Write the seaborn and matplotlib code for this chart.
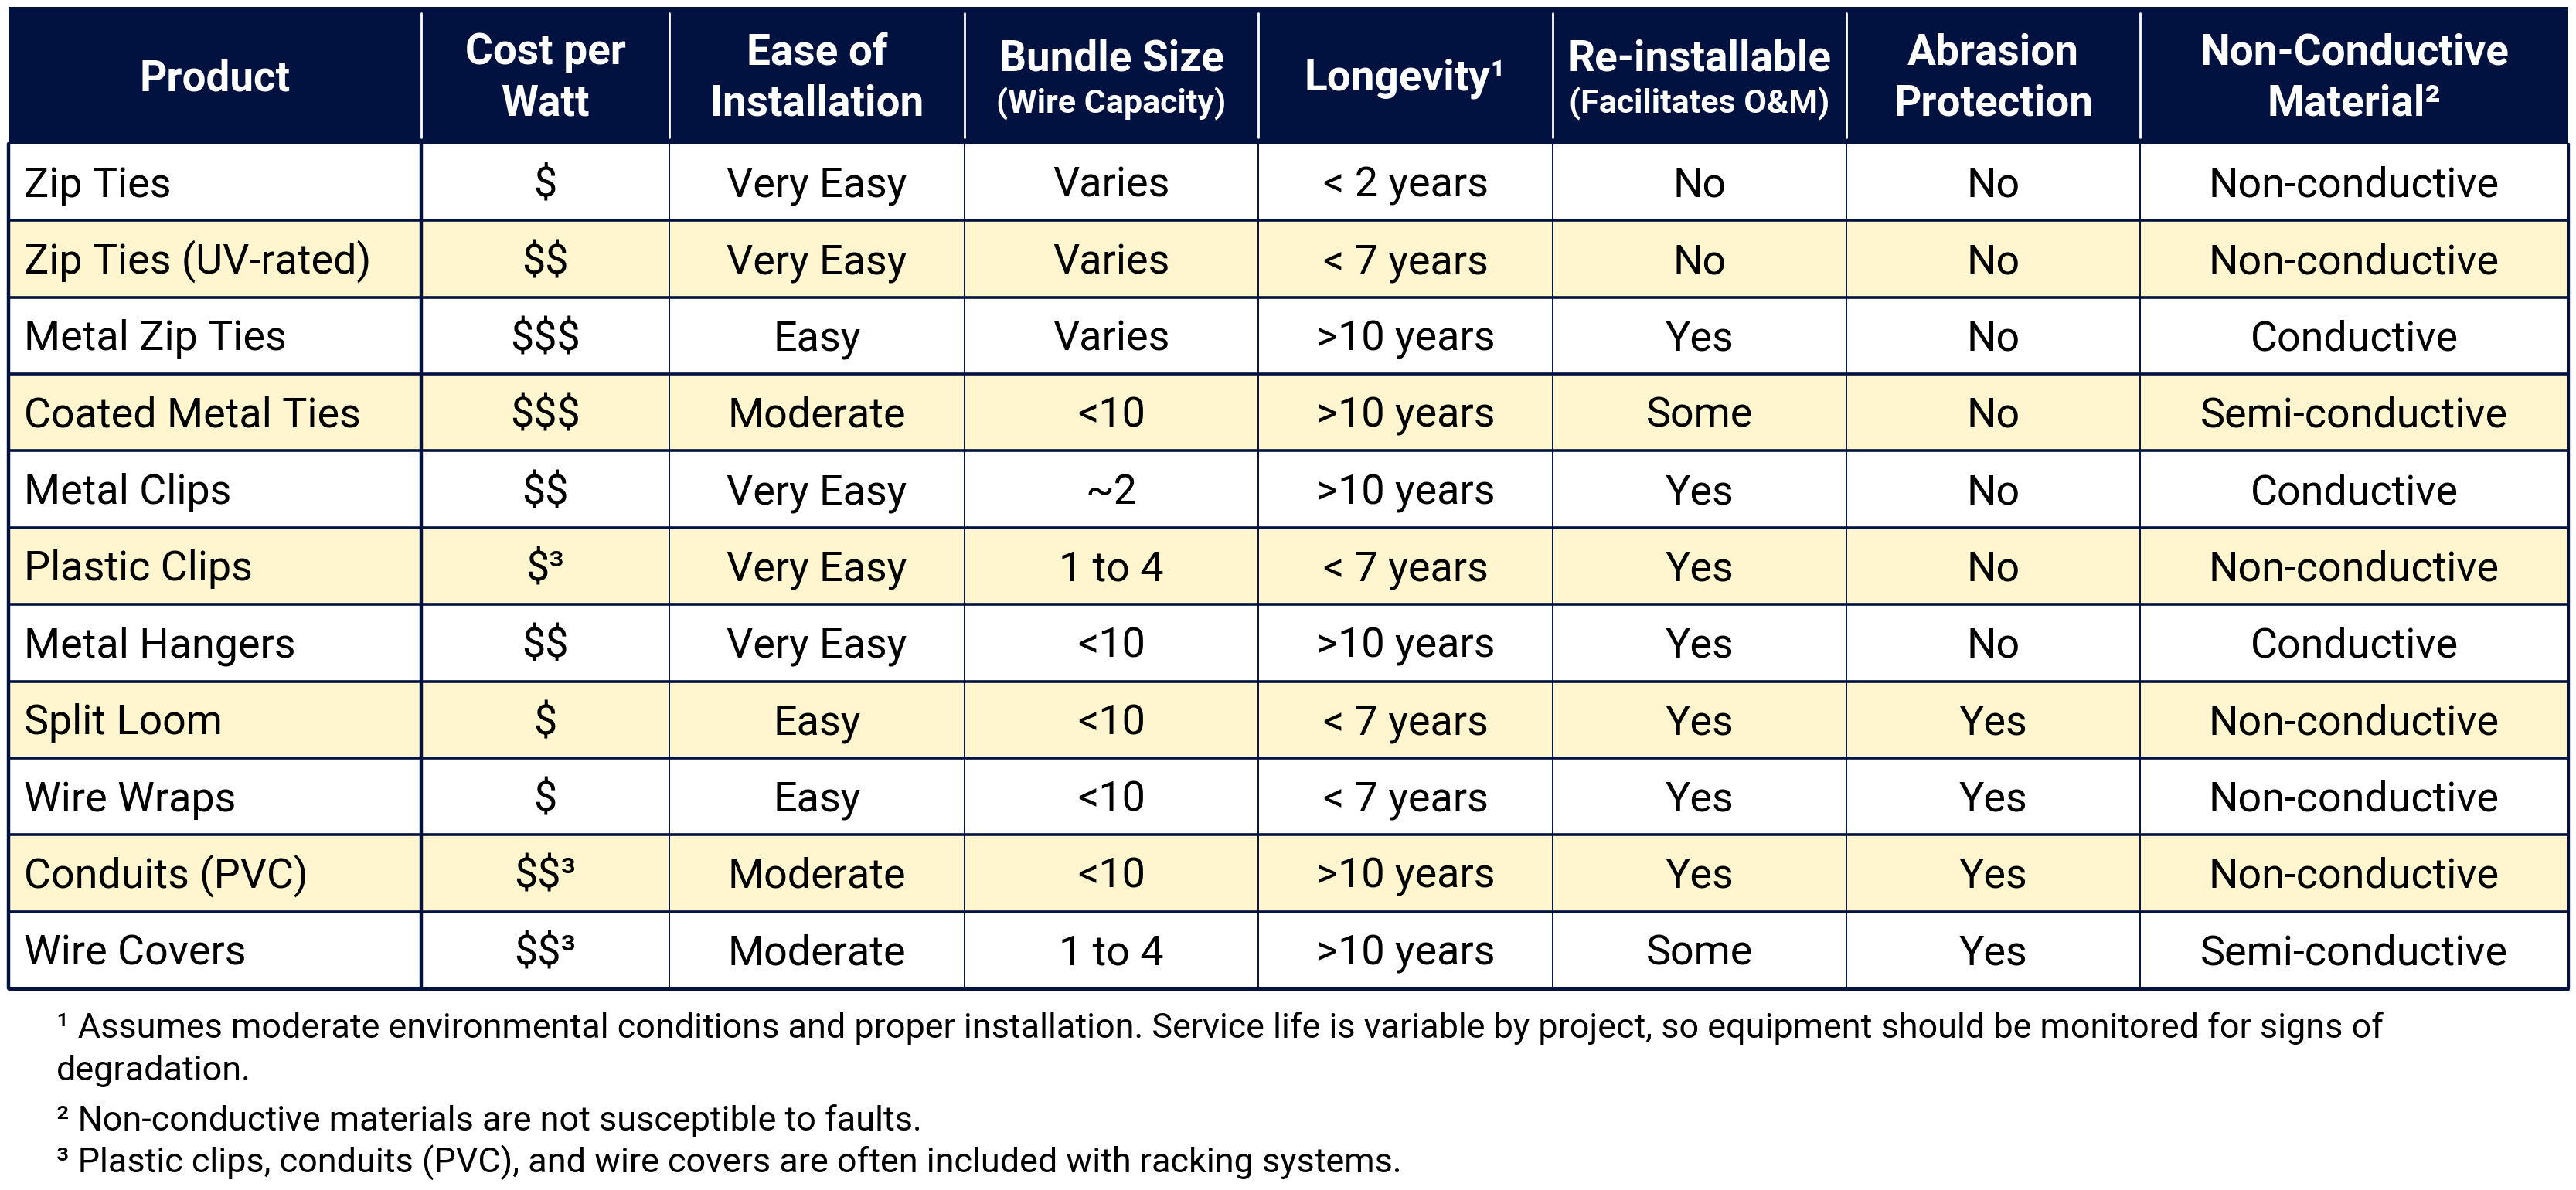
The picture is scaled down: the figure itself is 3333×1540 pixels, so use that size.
import numpy as np
import seaborn as sns
import matplotlib.pyplot as plt
from matplotlib.colors import ListedColormap
from matplotlib.patches import Rectangle

# Table content
products = ["Zip Ties", "Zip Ties (UV-rated)", "Metal Zip Ties", "Coated Metal Ties",
            "Metal Clips", "Plastic Clips", "Metal Hangers", "Split Loom",
            "Wire Wraps", "Conduits (PVC)", "Wire Covers"]
cost = ["$", "$$", "$$$", "$$$", "$$", "$³", "$$", "$", "$", "$$³", "$$³"]
ease = ["Very Easy", "Very Easy", "Easy", "Moderate", "Very Easy", "Very Easy",
        "Very Easy", "Easy", "Easy", "Moderate", "Moderate"]
bundle = ["Varies", "Varies", "Varies", "<10", "~2", "1 to 4", "<10", "<10",
          "<10", "<10", "1 to 4"]
longevity = ["< 2 years", "< 7 years", ">10 years", ">10 years", ">10 years",
             "< 7 years", ">10 years", "< 7 years", "< 7 years", ">10 years",
             ">10 years"]
reinstall = ["No", "No", "Yes", "Some", "Yes", "Yes", "Yes", "Yes", "Yes",
             "Yes", "Some"]
abrasion = ["No", "No", "No", "No", "No", "No", "No", "Yes", "Yes", "Yes", "Yes"]
material = ["Non-conductive", "Non-conductive", "Conductive", "Semi-conductive",
            "Conductive", "Non-conductive", "Conductive", "Non-conductive",
            "Non-conductive", "Non-conductive", "Semi-conductive"]

header_main = ["Product", "Cost per\nWatt", "Ease of\nInstallation", "Bundle Size",
               "Longevity¹", "Re-installable", "Abrasion\nProtection",
               "Non-Conductive\nMaterial²"]
header_sub = ["", "", "", "(Wire Capacity)", "", "(Facilitates O&M)", "", ""]

footnotes = [
    "¹ Assumes moderate environmental conditions and proper installation. Service life is variable by project, so equipment should be monitored for signs of\ndegradation.",
    "² Non-conductive materials are not susceptible to faults.",
    "³ Plastic clips, conduits (PVC), and wire covers are often included with racking systems.",
]

columns = [products, cost, ease, bundle, longevity, reinstall, abrasion, material]

# layout (pixels)
W, H = 3333, 1540
col_edges = [11, 545, 866, 1248, 1628, 2009, 2389, 2769, 3323]
head_top, head_bot = 9, 186
body_bot = 1279
n_rows = len(products)
row_h = (body_bot - head_bot) / n_rows

navy = "#021240"
yellow = "#FFF5CE"
head_fs, sub_fs, body_fs, foot_fs = 39.5, 31, 38.8, 32.4

sns.set_theme(style="white")
plt.rcParams['font.family'] = ['Roboto', 'DejaVu Sans']
plt.rcParams['text.parse_math'] = False

fig = plt.figure(figsize=(W / 100, H / 100), dpi=100)

# striped body rows with a heatmap
body_ax = fig.add_axes([col_edges[0] / W, 1 - body_bot / H,
                        (col_edges[-1] - col_edges[0]) / W, (body_bot - head_bot) / H])
stripes = np.array([[i % 2] for i in range(n_rows)])
sns.heatmap(stripes, cmap=ListedColormap(["white", yellow]), cbar=False,
            ax=body_ax, xticklabels=False, yticklabels=False)
body_ax.set_axis_off()

ax = fig.add_axes([0, 0, 1, 1], zorder=2)
ax.set_xlim(0, W)
ax.set_ylim(H, 0)
ax.set_axis_off()
ax.patch.set_alpha(0)

# header band
ax.add_patch(Rectangle((col_edges[0], head_top), col_edges[-1] - col_edges[0],
                       head_bot - head_top, color=navy, lw=0))
for x in col_edges[1:-1]:
    ax.plot([x, x], [head_top + 8, head_bot - 8], color="white", lw=2.0)

for j, (main, sub) in enumerate(zip(header_main, header_sub)):
    cx = (col_edges[j] + col_edges[j + 1]) / 2
    lines = main.split("\n")
    if sub:
        ax.text(cx, 91, main, ha="center", va="baseline", color="white",
                fontsize=head_fs, fontweight="bold")
        ax.text(cx, 147, sub, ha="center", va="baseline", color="white",
                fontsize=sub_fs, fontweight="bold")
    elif len(lines) == 2:
        ax.text(cx, 83, lines[0], ha="center", va="baseline", color="white",
                fontsize=head_fs, fontweight="bold")
        ax.text(cx, 150, lines[1], ha="center", va="baseline", color="white",
                fontsize=head_fs, fontweight="bold")
    else:
        ax.text(cx, 117, main, ha="center", va="baseline", color="white",
                fontsize=head_fs, fontweight="bold")

# body text
for j, col in enumerate(columns):
    for i, val in enumerate(col):
        y = head_bot + (i + 0.5) * row_h + 19
        if j == 0:
            ax.text(col_edges[0] + 20, y, val, ha="left", va="baseline",
                    fontsize=body_fs, color="black")
        else:
            cx = (col_edges[j] + col_edges[j + 1]) / 2
            ax.text(cx, y, val, ha="center", va="baseline", fontsize=body_fs,
                    color="black")

# grid lines
for i in range(1, n_rows):
    y = head_bot + i * row_h
    ax.plot([col_edges[0], col_edges[-1]], [y, y], color=navy, lw=2.6,
            solid_capstyle="butt")
for k, x in enumerate(col_edges[1:-1]):
    ax.plot([x, x], [head_bot, body_bot], color=navy,
            lw=3.2 if k == 0 else 1.4)
ax.plot([col_edges[0], col_edges[0]], [head_bot, body_bot], color=navy, lw=3.2)
ax.plot([col_edges[-1], col_edges[-1]], [head_bot, body_bot], color=navy, lw=2.4)
ax.plot([col_edges[0] - 1, col_edges[-1] + 1], [body_bot, body_bot], color=navy,
        lw=3.6, solid_capstyle="butt")

# footnotes
foot_y = [1343, 1463, 1518]
for txt, y in zip(footnotes, foot_y):
    first, *rest = txt.split("\n")
    ax.text(73, y, first, ha="left", va="baseline", fontsize=foot_fs, color="black")
    if rest:
        ax.text(73, y + 55, rest[0], ha="left", va="baseline", fontsize=foot_fs,
                color="black")

fig.savefig("out.png", dpi=100)
